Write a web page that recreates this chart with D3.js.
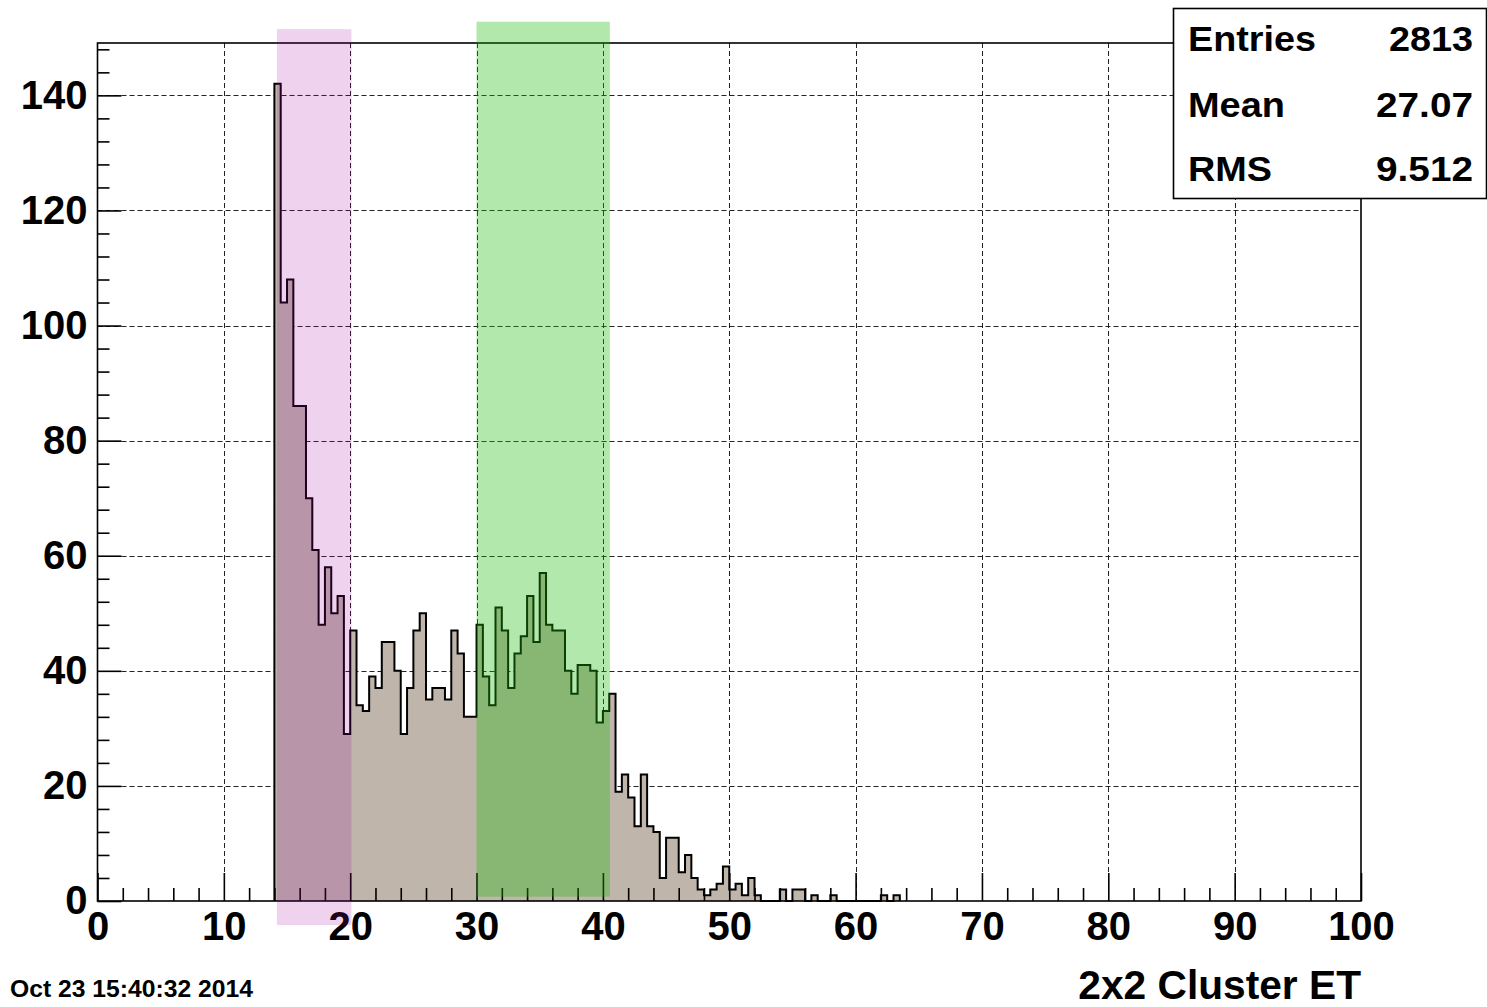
<!DOCTYPE html>
<html>
<head>
<meta charset="utf-8">
<script src="https://cdn.jsdelivr.net/npm/d3@7"></script>
<style>
  html, body { margin: 0; padding: 0; background: #fff; }
  svg { display: block; }
  text { font-family: "Liberation Sans", Arial, Helvetica, sans-serif; font-weight: bold; fill: #000; }
</style>
</head>
<body>
<svg id="chart" width="1487" height="1007"></svg>
<script>
// 2x2 cluster transverse energy, 0.5-wide bins starting at 14
const binStart = 14;
const binWidth = 0.5;
const counts = [
  142, 104, 108, 86, 86, 70, 61, 48, 58, 50, 53, 29,          // 14.0 - 19.5
  47, 34, 33, 39, 37, 45, 45, 40, 29, 37,                      // 20.0 - 24.5
  47, 50, 35, 37, 37, 35, 47, 43, 32, 32,                      // 25.0 - 29.5
  48, 39, 34, 51, 47, 37, 43, 46, 53, 45,                      // 30.0 - 34.5
  57, 48, 47, 47, 40, 36, 41, 41, 40, 31,                      // 35.0 - 39.5
  33, 36, 19, 22, 18, 13, 22, 13, 12, 4,                       // 40.0 - 44.5
  11, 11, 5, 8, 4, 2, 1, 2, 3, 6,                              // 45.0 - 49.5
  2, 3, 1, 4, 1, 0, 0, 0, 2, 0,                                // 50.0 - 54.5
  2, 2, 0, 1, 0, 0, 1, 0, 0, 0,                                // 55.0 - 59.5
  0, 0, 0, 0, 1, 0, 1                                          // 60.0 - 63.0
];

// highlighted ET windows
const lowWindow = [14.2, 20.1];
const lowWindowY = [-4.2, 151.5];
const highWindow = [30.0, 40.55];
const highWindowY = [0.75, 152.8];

// axis ticks
const xMajorTicks = d3.range(0, 101, 10);
const xMinorTicks = d3.range(0, 101, 2).filter(v => v % 10 !== 0);
const yMajorTicks = d3.range(0, 141, 20);
const yMinorTicks = d3.range(0, 149, 4).filter(v => v % 20 !== 0);

// statistics box
const statLabels = ["Entries", "Mean", "RMS"];
const statValues = ["2813", "27.07", "9.512"];

const axisTitle = "2x2 Cluster ET";
const dateStamp = "Oct 23 15:40:32 2014";

const svg = d3.select("#chart");
const padL = 97.5, padR = 1361, padT = 43, padB = 901;

const x = d3.scaleLinear().domain([0, 100]).range([padL, padR]);
const y = d3.scaleLinear().domain([0, 149.1]).range([padB, padT]);

// grid
const grid = svg.append("g").attr("stroke", "#222").attr("stroke-width", 1)
  .attr("stroke-dasharray", "5,3");
grid.selectAll("line.gx").data(xMajorTicks.filter(v => v > 0 && v < 100)).join("line")
  .attr("x1", d => Math.round(x(d)) + 0.5).attr("x2", d => Math.round(x(d)) + 0.5)
  .attr("y1", padT).attr("y2", padB);
grid.selectAll("line.gy").data(yMajorTicks.filter(v => v > 0)).join("line")
  .attr("x1", padL).attr("x2", padR)
  .attr("y1", d => Math.round(y(d)) + 0.5).attr("y2", d => Math.round(y(d)) + 0.5);

// histogram as a step outline
const bins = counts.map((c, i) => ({ x0: binStart + i * binWidth, x1: binStart + (i + 1) * binWidth, n: c }));
const pts = [[x(bins[0].x0), y(0)]];
bins.forEach(b => { pts.push([x(b.x0), y(b.n)]); pts.push([x(b.x1), y(b.n)]); });
pts.push([x(bins[bins.length - 1].x1), y(0)]);
const line = d3.line();
svg.append("path").attr("d", line(pts) + "Z")
  .attr("fill", "rgb(191,181,171)").attr("stroke", "none");
svg.append("path").attr("d", line(pts))
  .attr("fill", "none").attr("stroke", "#000").attr("stroke-width", 2)
  .attr("stroke-linejoin", "miter");

// axes: ticks drawn inward
function styleAxis(g) {
  g.select(".domain").remove();
  g.selectAll(".tick line").attr("stroke", "#000").attr("stroke-width", 1.6);
  g.selectAll(".tick text").style("font-size", "40px").attr("fill", "#000");
}
svg.append("g").attr("transform", `translate(0,${padB})`)
  .call(d3.axisBottom(x).tickValues(xMajorTicks).tickSize(-28).tickPadding(11).tickFormat(d3.format("d")))
  .call(styleAxis);
svg.append("g").attr("transform", `translate(0,${padB})`)
  .call(d3.axisBottom(x).tickValues(xMinorTicks).tickSize(-13).tickFormat(""))
  .call(styleAxis);
svg.append("g").attr("transform", `translate(${padL},0)`)
  .call(d3.axisLeft(y).tickValues(yMajorTicks).tickSize(-24).tickPadding(10).tickFormat(d3.format("d")))
  .call(styleAxis);
svg.append("g").attr("transform", `translate(${padL},0)`)
  .call(d3.axisLeft(y).tickValues(yMinorTicks).tickSize(-12).tickFormat(""))
  .call(styleAxis);

// frame
svg.append("rect").attr("x", padL).attr("y", padT)
  .attr("width", padR - padL).attr("height", padB - padT)
  .attr("fill", "none").attr("stroke", "#000").attr("stroke-width", 1.6);

// translucent windows over the histogram
svg.append("rect")
  .attr("x", x(lowWindow[0])).attr("width", x(lowWindow[1]) - x(lowWindow[0]))
  .attr("y", y(lowWindowY[1])).attr("height", y(lowWindowY[0]) - y(lowWindowY[1]))
  .attr("fill", "rgb(161,5,161)").attr("fill-opacity", 0.18);
svg.append("rect")
  .attr("x", x(highWindow[0])).attr("width", x(highWindow[1]) - x(highWindow[0]))
  .attr("y", y(highWindowY[1])).attr("height", y(highWindowY[0]) - y(highWindowY[1]))
  .attr("fill", "rgb(29,188,12)").attr("fill-opacity", 0.34);

// statistics box
const box = svg.append("g");
box.append("rect").attr("x", 1173.5).attr("y", 8.5).attr("width", 313).attr("height", 190)
  .attr("fill", "#fff").attr("stroke", "#000").attr("stroke-width", 1.6);
const rowBase = [51, 117, 181];
statLabels.forEach((s, i) => {
  box.append("text").attr("x", 1188).attr("y", rowBase[i])
    .style("font-size", "35px").text(s)
    .attr("textLength", [128, 97, 84][i]).attr("lengthAdjust", "spacingAndGlyphs");
  box.append("text").attr("x", 1473).attr("y", rowBase[i]).attr("text-anchor", "end")
    .style("font-size", "35px").text(statValues[i])
    .attr("textLength", [84, 97, 97][i]).attr("lengthAdjust", "spacingAndGlyphs");
});

// axis title and timestamp
svg.append("text").attr("x", padR).attr("y", 999).attr("text-anchor", "end")
  .style("font-size", "40.7px").text(axisTitle);
svg.append("text").attr("x", 10).attr("y", 997)
  .style("font-size", "24.7px").text(dateStamp);
</script>
</body>
</html>
